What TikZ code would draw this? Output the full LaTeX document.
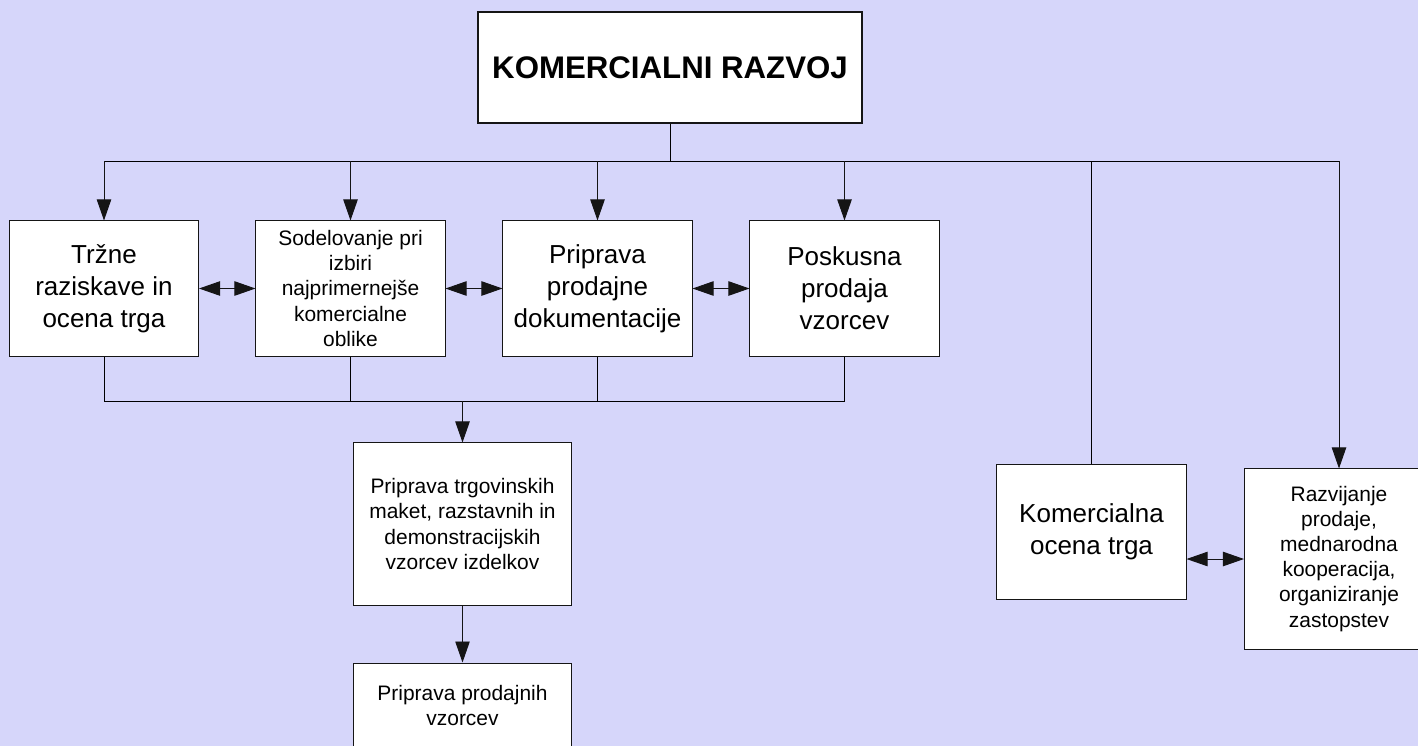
\documentclass[tikz,border=0pt]{standalone}
\usepackage{fontspec}
\setmainfont{Liberation Sans}
\usetikzlibrary{arrows.meta, positioning}
\definecolor{cbg}{HTML}{D6D6FA}
\definecolor{cbglight}{HTML}{E3E3FB}
\definecolor{cline}{HTML}{151515}
\tikzset{
  every picture/.style={line width=0.7pt},
  box/.style={draw=cline, fill=white, align=center, inner sep=2pt, minimum width=4.725cm, minimum height=3.375cm, font=\fontsize{18.5}{22.8}\selectfont},
  smallbox/.style={box, font=\fontsize{14.9}{17.8}\selectfont},
  arrow/.style={-{Triangle[length=5.25mm, width=3.6mm]}, draw=cline},
  both/.style={{Triangle[length=5.25mm, width=3.6mm]}-{Triangle[length=5.25mm, width=3.6mm]}, draw=cline},
  title/.style={draw=cline, fill=white, line width=2pt, minimum width=9.6cm, minimum height=2.775cm, font=\fontsize{22.2}{26}\selectfont\bfseries},
}
\begin{document}
\begin{tikzpicture}[x=0.025cm, y=-0.025cm]
  \useasboundingbox (0,0) rectangle (1418,745);
  \shade[top color=cbg, middle color=cbglight, bottom color=cbg] (0,0) rectangle (1418,745);

  % head
  \node[title] (head) at (670,67.5) {KOMERCIALNI RAZVOJ};
  \coordinate (hub) at (670,161);

  % first row
  \node[box] (trzne) at (104,288.5) {Tržne\\raziskave in\\ocena trga};
  \node[smallbox] (izbira) at (350.5,288.5) {Sodelovanje pri\\izbiri\\najprimernejše\\komercialne\\oblike};
  \node[box] (dokum) at (597.5,288.5) {Priprava\\prodajne\\dokumentacije};
  \node[box] (poskus) at (844.5,288.5) {Poskusna\\prodaja\\vzorcev};

  % right side
  \node[box] (ocena) at (1091.5,531.5) {Komercialna\\ocena trga};
  \node[smallbox, minimum height=4.5cm] (razvoj) at (1339,559) {Razvijanje\\prodaje,\\mednarodna\\kooperacija,\\organiziranje\\zastopstev};

  % lower column
  \node[smallbox, minimum width=5.425cm, minimum height=4.05cm] (maket) at (462.5,524) {Priprava trgovinskih\\maket, razstavnih in\\demonstracijskih\\vzorcev izdelkov};
  \node[smallbox, minimum width=5.425cm, minimum height=2.125cm] (prodvz) at (462.5,705.5) {Priprava prodajnih\\vzorcev};
  \coordinate (join) at (462.5,401);

  % top bus
  \draw (head) -- (hub);
  \draw (hub -| trzne) -- (hub -| razvoj);
  \foreach \n in {trzne, izbira, dokum, poskus, razvoj}
    \draw[arrow] (hub -| \n) -- (\n.north);
  \draw (hub -| ocena) -- (ocena.north);

  % row links
  \draw[both] (trzne) -- (izbira);
  \draw[both] (izbira) -- (dokum);
  \draw[both] (dokum) -- (poskus);
  \draw[both] (ocena.east |- razvoj.west) -- (razvoj.west);

  % bottom bus
  \draw (trzne.south) -- (join -| trzne) -- (join -| poskus) -- (poskus.south);
  \draw (izbira.south) -- (join -| izbira);
  \draw (dokum.south) -- (join -| dokum);
  \draw[arrow] (join) -- (maket.north);
  \draw[arrow] (maket) -- (prodvz);
\end{tikzpicture}
\end{document}
